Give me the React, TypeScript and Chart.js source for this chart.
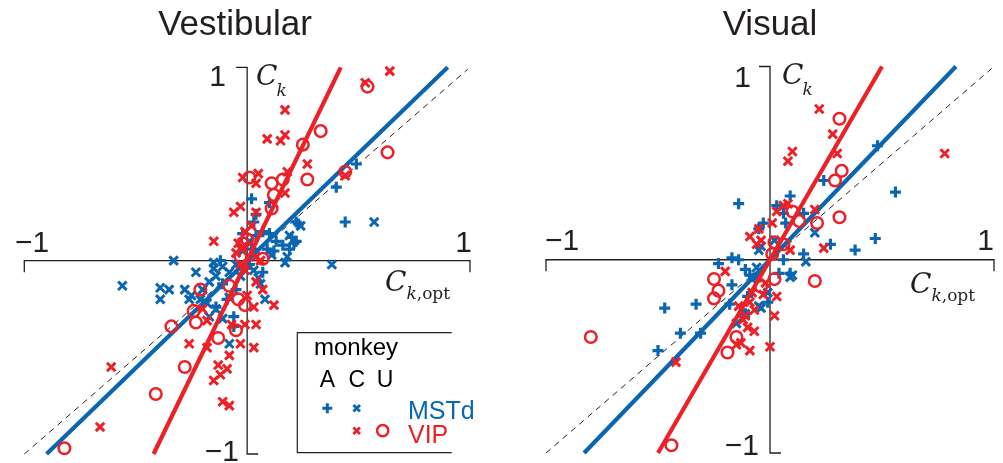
import React, { useEffect, useRef } from 'react';
import { Chart, registerables } from 'chart.js';

Chart.register(...registerables);

// ---------------- DATA (C_k,opt , C_k) ----------------
// Vestibular panel
const vestMSTdA = [
  [0.40, 0.38], [0.44, 0.20], [0.22, 0.20], [0.21, 0.09], [0.20, 0.12], [0.19, 0.06], [0.02, 0.32],
  [0.03, 0.20], [0.07, 0.15], [0.04, 0.24], [0.10, 0.30], [0.22, 0.10], [0.13, 0.10], [0.10, 0.14],
  [0.09, 0.06], [-0.02, 0.14], [0.04, 0.13], [-0.12, 0.00], [0.01, -0.02], [0.02, 0.06], [0.07, -0.06],
  [-0.05, -0.15], [-0.11, -0.12], [-0.14, -0.24], [-0.06, -0.29], [-0.06, -0.34], [0.49, 0.50],
  [-0.09, -0.20], [0.12, 0.05], [0.16, 0.08], [0.23, 0.19],
];
const vestMSTdC = [
  [0.57, 0.20], [0.38, -0.02], [-0.33, 0.00], [-0.56, -0.13], [-0.39, -0.14], [-0.35, -0.15],
  [-0.39, -0.20], [-0.28, -0.15], [-0.25, -0.18], [-0.21, -0.20], [-0.18, -0.22], [-0.14, -0.25],
  [-0.11, -0.30], [-0.08, -0.43], [0.08, -0.20], [0.18, 0.02], [0.19, 0.13], [-0.15, -0.04],
  [-0.14, -0.08], [-0.17, -0.11], [-0.23, -0.06], [-0.20, -0.15], [0.05, -0.09], [-0.03, -0.08],
  [-0.08, -0.06], [0.03, -0.05], [0.11, 0.03], [0.01, 0.10], [-0.26, -0.20], [-0.15, -0.01],
  [-0.11, -0.03], [0.06, -0.12], [-0.08, -0.19], [-0.17, -0.29], [0.17, -0.01], [-0.05, -0.02],
  [-0.02, 0.05], [0.24, 0.18],
];
const vestVIPC = [
  [0.64, 0.98], [0.53, 0.92], [0.17, 0.78], [0.09, 0.63], [0.15, 0.62], [0.17, 0.65], [0.27, 0.50],
  [0.05, 0.45], [-0.02, 0.43], [0.04, 0.40], [0.17, 0.35], [0.18, 0.46], [-0.03, 0.28], [-0.06, 0.25],
  [0.04, 0.25], [-0.15, 0.10], [0.04, -0.11], [0.07, -0.15], [0.12, -0.23], [0.03, -0.24],
  [0.00, -0.18], [-0.01, -0.33], [0.04, -0.33], [-0.18, -0.31], [-0.26, -0.43], [-0.18, -0.45],
  [-0.03, -0.43], [0.03, -0.45], [-0.08, -0.49], [-0.13, -0.54], [-0.09, -0.56], [-0.12, -0.59],
  [-0.15, -0.62], [-0.11, -0.73], [-0.08, -0.75], [-0.61, -0.55], [-0.66, -0.86], [0.44, 0.44],
  [-0.04, 0.09], [-0.02, 0.07], [-0.05, 0.04], [0.06, 0.00], [-0.01, -0.05], [-0.07, -0.33],
  [-0.20, -0.25], [0.02, 0.18], [-0.01, 0.15], [0.04, 0.02], [-0.03, -0.02],
];
const vestVIPU = [
  [0.54, 0.90], [0.33, 0.67], [0.25, 0.60], [0.63, 0.56], [0.01, 0.43], [0.11, 0.40], [0.16, 0.42],
  [0.27, 0.42], [0.12, 0.34], [0.44, 0.46], [0.11, 0.27], [0.00, 0.11], [-0.02, 0.09], [-0.03, 0.02],
  [0.07, 0.01], [-0.21, -0.15], [-0.08, -0.13], [-0.04, -0.20], [-0.01, -0.23], [-0.23, -0.32],
  [-0.05, -0.36], [-0.34, -0.34], [-0.13, -0.40], [-0.24, -0.26], [-0.28, -0.55], [-0.41, -0.69],
  [-0.82, -0.97],
];
const vestMSTdFit = [[-0.90, -1], [0.90, 1]];
const vestVIPFit = [[-0.42, -1], [0.42, 1]];

// Visual panel
const visMSTdA = [
  [0.48, 0.59], [0.24, 0.41], [0.56, 0.35], [0.09, 0.33], [-0.14, 0.29], [0.47, 0.11], [0.38, 0.05],
  [0.27, 0.08], [0.15, 0.03], [-0.03, 0.19], [0.03, 0.28], [0.06, 0.24], [0.15, 0.24], [0.07, 0.19],
  [-0.23, -0.02], [-0.17, 0.01], [-0.14, 0.00], [-0.47, -0.25], [-0.33, -0.23], [-0.40, -0.38],
  [-0.31, -0.38], [-0.50, -0.47], [-0.17, -0.13], [-0.10, -0.19], [-0.18, -0.23], [-0.11, -0.28],
  [0.09, -0.07], [0.06, 0.00], [0.04, -0.07], [-0.11, -0.05], [-0.09, -0.08], [-0.05, 0.16],
  [-0.01, -0.22],
];
const visMSTdC = [
  [0.16, -0.01], [0.20, 0.14], [-0.05, 0.05], [-0.01, -0.17], [-0.05, -0.24], [-0.06, -0.09],
  [-0.08, -0.10], [-0.15, -0.33], [0.09, -0.09], [-0.06, -0.04], [-0.04, 0.07], [-0.11, -0.28],
  [-0.04, -0.25], [0.10, -0.08], [0.02, 0.10],
];
const visVIPC = [
  [0.22, 0.78], [0.28, 0.65], [0.30, 0.55], [0.10, 0.56], [0.08, 0.51], [0.78, 0.55], [0.20, 0.26],
  [0.24, 0.06], [-0.09, 0.12], [-0.05, 0.16], [-0.04, 0.10], [-0.06, 0.08], [0.01, 0.19], [0.06, 0.28],
  [0.03, 0.25], [0.09, 0.05], [-0.20, -0.06], [0.03, -0.19], [0.02, -0.29], [0.00, -0.45],
  [-0.09, -0.47], [-0.42, -0.53], [-0.14, -0.24], [-0.10, -0.35], [-0.07, -0.37], [-0.13, -0.43],
  [-0.15, -0.44], [-0.11, -0.29], [-0.03, -0.18], [-0.08, -0.17], [0.08, 0.29], [-0.09, -0.22],
  [-0.12, -0.31], [-0.07, -0.26], [-0.02, -0.12],
];
const visVIPU = [
  [0.31, 0.73], [0.32, 0.46], [0.29, 0.41], [0.31, 0.22], [0.10, 0.25], [0.13, 0.20], [0.21, 0.19],
  [0.02, 0.09], [0.06, 0.08], [0.01, 0.03], [-0.25, -0.10], [-0.23, -0.16], [-0.25, -0.20],
  [0.02, -0.10], [-0.04, -0.14], [0.20, -0.11], [-0.15, -0.40], [-0.19, -0.48], [-0.80, -0.40],
  [-0.44, -0.96],
];
const visMSTdFit = [[-0.83, -1], [0.83, 1]];
const visVIPFit = [[-0.50, -1], [0.50, 1]];

const unityLine = [[-1, -1], [0.99, 0.99]];

const titles = ['Vestibular', 'Visual'];
const axisTickLabels = ['\u22121', '1'];
const legendMonkeys = ['A', 'C', 'U'];
const legendAreas = ['MSTd', 'VIP'];

// ---------------- STYLE ----------------
const BLUE = '#0a66b1';
const RED = '#ec2027';
const INK = '#231f20';
const SANS = '"Liberation Sans", Arial, Helvetica, sans-serif';
const SERIF = '"DejaVu Serif", "Liberation Serif", serif';

const toPts = (a: number[][]) => a.map(([x, y]) => ({ x, y }));

function plusMark(ctx: CanvasRenderingContext2D, x: number, y: number, r: number, c: string, lw: number) {
  ctx.save();
  ctx.strokeStyle = c;
  ctx.lineWidth = lw;
  ctx.beginPath();
  ctx.moveTo(x - r, y); ctx.lineTo(x + r, y);
  ctx.moveTo(x, y - r); ctx.lineTo(x, y + r);
  ctx.stroke();
  ctx.restore();
}
function crossMark(ctx: CanvasRenderingContext2D, x: number, y: number, r: number, c: string, lw: number) {
  ctx.save();
  ctx.strokeStyle = c;
  ctx.lineWidth = lw;
  ctx.beginPath();
  ctx.moveTo(x - r, y - r); ctx.lineTo(x + r, y + r);
  ctx.moveTo(x - r, y + r); ctx.lineTo(x + r, y - r);
  ctx.stroke();
  ctx.restore();
}
function circleMark(ctx: CanvasRenderingContext2D, x: number, y: number, r: number, c: string, lw: number) {
  ctx.save();
  ctx.strokeStyle = c;
  ctx.lineWidth = lw;
  ctx.beginPath();
  ctx.arc(x, y, r, 0, Math.PI * 2);
  ctx.stroke();
  ctx.restore();
}

interface PanelLayout {
  width: number;
  height: number;
  padding: { left: number; right: number; top: number; bottom: number };
  title: [number, number];
  top1: [number, number];
  bot1: [number, number];
  left1: [number, number];
  right1: [number, number];
  ck: [number, number];
  ckopt: [number, number];
  legend: boolean;
}

const layouts: PanelLayout[] = [
  {
    width: 500, height: 463,
    padding: { left: 24.3, right: 30, top: 67.3, bottom: 9 },
    title: [235, 35],
    top1: [226, 86],
    bot1: [239, 461],
    left1: [15, 252],
    right1: [472, 252],
    ck: [256, 85],
    ckopt: [385, 291],
    legend: true,
  },
  {
    width: 503, height: 463,
    padding: { left: 46, right: 8, top: 66.5, bottom: 10 },
    title: [270, 35],
    top1: [251, 87],
    bot1: [259, 455],
    left1: [45, 250],
    right1: [494, 250],
    ck: [282, 84],
    ckopt: [410, 293],
    legend: false,
  },
];

function makeDecor(idx: number) {
  const L = layouts[idx];
  return {
    id: 'decor' + idx,
    beforeDatasetsDraw(chart: any) {
      const ctx: CanvasRenderingContext2D = chart.ctx;
      const xs = chart.scales.x;
      const ys = chart.scales.y;
      const x0 = xs.getPixelForValue(0);
      const y0 = ys.getPixelForValue(0);
      const xl = xs.getPixelForValue(-1);
      const xr = xs.getPixelForValue(1);
      const yt = ys.getPixelForValue(1);
      const yb = ys.getPixelForValue(-1);
      ctx.save();
      ctx.strokeStyle = INK;
      ctx.lineWidth = 1.3;
      ctx.beginPath();
      ctx.moveTo(xl, y0 + 11.5); ctx.lineTo(xl, y0); ctx.lineTo(xr, y0); ctx.lineTo(xr, y0 + 11.5);
      ctx.moveTo(x0 - 11, yt); ctx.lineTo(x0, yt); ctx.lineTo(x0, yb); ctx.lineTo(x0 + 11, yb);
      ctx.stroke();
      ctx.restore();
    },
    afterDraw(chart: any) {
      const ctx: CanvasRenderingContext2D = chart.ctx;
      ctx.save();
      ctx.fillStyle = INK;
      ctx.textBaseline = 'alphabetic';
      // title
      ctx.font = `35px ${SANS}`;
      ctx.textAlign = 'center';
      ctx.fillText(titles[idx], L.title[0], L.title[1]);
      // tick labels
      ctx.font = `30px ${SANS}`;
      ctx.textAlign = 'right';
      ctx.fillText(axisTickLabels[1], L.top1[0], L.top1[1]);
      ctx.fillText(axisTickLabels[0], L.bot1[0], L.bot1[1]);
      ctx.fillText(axisTickLabels[1], L.right1[0], L.right1[1]);
      ctx.textAlign = 'left';
      ctx.fillText(axisTickLabels[0], L.left1[0], L.left1[1]);
      // axis names
      ctx.font = `italic 28px ${SERIF}`;
      ctx.fillText('C', L.ck[0], L.ck[1]);
      let w = ctx.measureText('C').width;
      ctx.font = `italic 17px ${SERIF}`;
      ctx.fillText('k', L.ck[0] + w - 1, L.ck[1] + 11);
      ctx.font = `italic 28px ${SERIF}`;
      ctx.fillText('C', L.ckopt[0], L.ckopt[1]);
      w = ctx.measureText('C').width;
      ctx.font = `italic 17px ${SERIF}`;
      const kx = L.ckopt[0] + w;
      ctx.fillText('k', kx, L.ckopt[1] + 8);
      const kw = ctx.measureText('k').width;
      ctx.font = `17px ${SERIF}`;
      ctx.fillText(',opt', kx + kw, L.ckopt[1] + 8);

      if (L.legend) {
        // box (left, top, bottom edges)
        ctx.strokeStyle = INK;
        ctx.lineWidth = 1.2;
        ctx.beginPath();
        ctx.moveTo(451.7, 332.7); ctx.lineTo(297.3, 332.7); ctx.lineTo(297.3, 452.7); ctx.lineTo(451.7, 452.7);
        ctx.stroke();
        ctx.fillStyle = '#000';
        ctx.font = `24px ${SANS}`;
        ctx.textAlign = 'left';
        ctx.fillText('monkey', 314, 355);
        ctx.font = `23px ${SANS}`;
        ctx.textAlign = 'center';
        const mx = [327.3, 356.7, 385];
        legendMonkeys.forEach((m, i) => ctx.fillText(m, mx[i], 387));
        plusMark(ctx, mx[0], 408.3, 5, BLUE, 3);
        crossMark(ctx, mx[1], 408.3, 3.3, BLUE, 2.8);
        crossMark(ctx, mx[1], 430.7, 3.3, RED, 2.8);
        circleMark(ctx, 382.7, 430.7, 5.6, RED, 2.5);
        ctx.textAlign = 'left';
        ctx.font = `25px ${SANS}`;
        ctx.fillStyle = BLUE;
        ctx.fillText(legendAreas[0], 408, 418.5);
        ctx.fillStyle = RED;
        ctx.fillText(legendAreas[1], 408, 443);
      }
      ctx.restore();
    },
  };
}

function buildDatasets(idx: number) {
  const sets = idx === 0
    ? { a: vestMSTdA, c: vestMSTdC, vc: vestVIPC, vu: vestVIPU, mf: vestMSTdFit, vf: vestVIPFit }
    : { a: visMSTdA, c: visMSTdC, vc: visVIPC, vu: visVIPU, mf: visMSTdFit, vf: visVIPFit };
  const lineBase = { showLine: true, pointRadius: 0, borderCapStyle: 'butt', clip: false, fill: false };
  return [
    { ...lineBase, label: 'unity', data: toPts(unityLine), borderColor: INK, borderWidth: 1, borderDash: [6, 5], order: 6 },
    {
      label: 'MSTd A', data: toPts(sets.a), pointStyle: 'cross', pointRadius: 5.5, pointBorderWidth: 3.2,
      pointBorderColor: BLUE, pointBackgroundColor: BLUE, borderColor: BLUE, clip: false, order: 5,
    },
    {
      label: 'MSTd C', data: toPts(sets.c), pointStyle: 'crossRot', pointRadius: 6, pointBorderWidth: 3,
      pointBorderColor: BLUE, pointBackgroundColor: BLUE, borderColor: BLUE, clip: false, order: 4,
    },
    { ...lineBase, label: 'MSTd fit', data: toPts(sets.mf), borderColor: BLUE, borderWidth: 4.2, order: 3 },
    {
      label: 'VIP C', data: toPts(sets.vc), pointStyle: 'crossRot', pointRadius: 6, pointBorderWidth: 3,
      pointBorderColor: RED, pointBackgroundColor: RED, borderColor: RED, clip: false, order: 2,
    },
    {
      label: 'VIP U', data: toPts(sets.vu), pointStyle: 'circle', pointRadius: 5.8, pointBorderWidth: 2.5,
      pointBorderColor: RED, pointBackgroundColor: 'rgba(0,0,0,0)', borderColor: RED, clip: false, order: 1,
    },
    { ...lineBase, label: 'VIP fit', data: toPts(sets.vf), borderColor: RED, borderWidth: 4.2, order: 0 },
  ];
}

function Panel({ idx, left }: { idx: number; left: number }) {
  const ref = useRef<HTMLCanvasElement | null>(null);
  const L = layouts[idx];
  useEffect(() => {
    if (!ref.current) return;
    const chart = new Chart(ref.current, {
      type: 'scatter',
      data: { datasets: buildDatasets(idx) as any },
      options: {
        animation: false,
        responsive: false,
        maintainAspectRatio: false,
        events: [],
        layout: { padding: L.padding },
        scales: {
          x: { type: 'linear', min: -1, max: 1, display: false },
          y: { type: 'linear', min: -1, max: 1, display: false },
        },
        plugins: {
          legend: { display: false },
          tooltip: { enabled: false },
          title: { display: false },
        },
      },
      plugins: [makeDecor(idx)],
    } as any);
    return () => chart.destroy();
  }, [idx]);
  return (
    <canvas
      ref={ref}
      width={L.width}
      height={L.height}
      style={{ position: 'absolute', left, top: 0, width: L.width, height: L.height }}
    />
  );
}

export default function App() {
  return (
    <div style={{ position: 'fixed', left: 0, top: 0, width: 1003, height: 463, background: '#fff', overflow: 'hidden' }}>
      <Panel idx={0} left={0} />
      <Panel idx={1} left={500} />
    </div>
  );
}
